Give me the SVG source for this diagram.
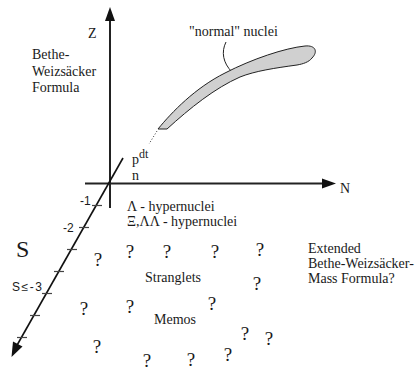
<svg xmlns="http://www.w3.org/2000/svg" width="418" height="371" viewBox="0 0 418 371">
<defs>
<style>
text{font-family:"Liberation Serif","DejaVu Serif",serif;fill:#1a1a1a;font-size:14px}
.sans{font-family:"Liberation Sans","DejaVu Sans",sans-serif;font-size:12px}
.big{font-size:24px}
.sup{font-size:12px}
.q{font-size:19px;text-anchor:middle}
.axis{stroke:#222;stroke-width:2;fill:none}
.tick{stroke:#444;stroke-width:1.2}
</style>
</defs>
<rect width="418" height="371" fill="#fff"/>
<g id="connectors">
<line class="axis" x1="110" y1="208" x2="110" y2="19"/>
<polygon points="110,7 105,21 115,21" fill="#111"/>
<line class="axis" x1="85" y1="183.5" x2="324" y2="183.5"/>
<polygon points="336,183.5 322,178.5 322,188.5" fill="#111"/>
<line x1="123" y1="158" x2="16" y2="347" stroke="#111" stroke-width="1.6"/>
<polygon points="11.5,357 13,341.5 22.5,346.5" fill="#111"/>
<g class="tick">
<line x1="92" y1="205.5" x2="102" y2="205.5"/>
<line x1="79" y1="227.5" x2="89" y2="227.5"/>
<line x1="67" y1="249.5" x2="77" y2="249.5"/>
<line x1="54" y1="271.5" x2="64" y2="271.5"/>
<line x1="42" y1="293.5" x2="52" y2="293.5"/>
<line x1="30" y1="315.5" x2="40" y2="315.5"/>
<line x1="17" y1="337.5" x2="27" y2="337.5"/>
</g>
<path d="M226,42 C221,52 223,63 232,72" fill="none" stroke="#222" stroke-width="1"/>
<line x1="157" y1="131" x2="149" y2="144" stroke="#333" stroke-width="1" stroke-dasharray="1,2"/>
</g>
<g id="nuclei">
<path d="M158,129 C172,112 195,88 225,73 C252,59 285,48 305,46 C316,45 318,52 312,58 C309,62 303,64 297,65 C275,68 255,71 240,77 C215,88 190,108 167,129 Z" fill="#d0d0d0" stroke="#222" stroke-width="1"/>
<text x="189" y="36">"normal" nuclei</text>
</g>
<g id="axis-labels">
<text x="88" y="38">Z</text>
<text x="340" y="193">N</text>
<text class="big" x="16" y="257">S</text>
<text class="sans" x="80" y="205">-1</text>
<text class="sans" x="63" y="232">-2</text>
<text class="sans" x="12" y="291" textLength="30">S≤-3</text>
<text x="132" y="164">p<tspan class="sup" dy="-6">dt</tspan></text>
<text x="132" y="180">n</text>
</g>
<g id="bethe">
<text x="32" y="59">Bethe-</text>
<text x="32" y="76">Weizsäcker</text>
<text x="32" y="92">Formula</text>
</g>
<g id="hyper">
<text x="127" y="211">Λ - hypernuclei</text>
<text x="127" y="226">Ξ,ΛΛ - hypernuclei</text>
</g>
<g id="exotic">
<text x="145" y="282">Stranglets</text>
<text x="154" y="324">Memos</text>
</g>
<g id="extended">
<text x="308" y="253">Extended</text>
<text x="308" y="268">Bethe-Weizsäcker-</text>
<text x="308" y="283">Mass Formula?</text>
</g>
<g id="questions">
<text class="q" x="98" y="266">?</text>
<text class="q" x="130" y="258">?</text>
<text class="q" x="167" y="258">?</text>
<text class="q" x="215" y="258">?</text>
<text class="q" x="260" y="256">?</text>
<text class="q" x="257" y="290">?</text>
<text class="q" x="84" y="315">?</text>
<text class="q" x="130" y="313">?</text>
<text class="q" x="212" y="310">?</text>
<text class="q" x="97" y="353">?</text>
<text class="q" x="147" y="367">?</text>
<text class="q" x="191" y="366">?</text>
<text class="q" x="228" y="361">?</text>
<text class="q" x="245" y="340">?</text>
<text class="q" x="269" y="345">?</text>
</g>
</svg>
